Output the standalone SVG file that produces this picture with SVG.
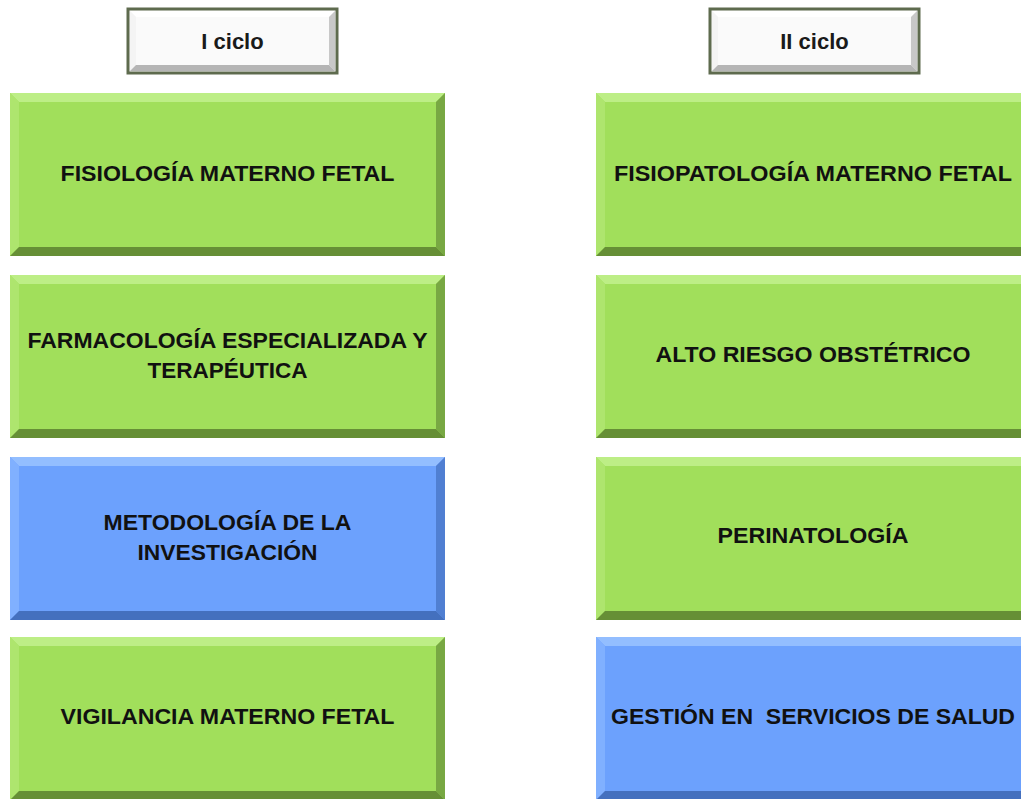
<svg xmlns="http://www.w3.org/2000/svg" width="1021" height="799" viewBox="0 0 1021 799">
<style>
.t{font-family:"Liberation Sans",Arial,sans-serif;font-weight:bold;font-size:22px;fill:#111;text-anchor:middle}
.h{font-family:"Liberation Sans",Arial,sans-serif;font-weight:bold;font-size:22px;fill:#1a1a1a;text-anchor:middle}
.g{--base:#A1DF5B;--tp:#BDEE86;--lf:#AEE56E;--rt:#78A843;--bt:#668F36}
.b{--base:#6CA1FD;--tp:#93BEFF;--lf:#80B0FF;--rt:#507FD2;--bt:#4470BE}
.hd{--base:#FAFAFA;--tp:#FFFFFF;--lf:#F4F4F4;--rt:#C8C8C8;--bt:#B5B5B5}
</style>
<defs>
<g id="bev">
<rect x="0" y="0" width="435" height="163" style="fill:var(--base)"/>
<polygon points="0,0 435,0 426,9 9,9" style="fill:var(--tp)"/>
<polygon points="0,0 9,9 9,154 0,163" style="fill:var(--lf)"/>
<polygon points="435,0 435,163 426,154 426,9" style="fill:var(--rt)"/>
<polygon points="0,163 9,154 426,154 435,163" style="fill:var(--bt)"/>
</g>
<g id="hbev">
<rect x="0" y="0" width="209" height="64" style="fill:var(--base);stroke:#5E6B4E;stroke-width:3"/>
<polygon points="2,2 207,2 201,8 8,8" style="fill:var(--tp)"/>
<polygon points="2,2 8,8 8,56 2,62" style="fill:var(--lf)"/>
<polygon points="207,2 207,62 201,56 201,8" style="fill:var(--rt)"/>
<polygon points="2,62 8,56 201,56 207,62" style="fill:var(--bt)"/>
</g>
</defs>
<rect width="1021" height="799" fill="#FFFFFF"/>
<g id="connectors"/>
<g id="header-1" class="hd" transform="translate(128,9)"><use href="#hbev"/><text class="h" x="104.5" y="40">I ciclo</text></g>
<g id="header-2" class="hd" transform="translate(710,9)"><use href="#hbev"/><text class="h" x="104.5" y="40">II ciclo</text></g>

<g id="n-fisiologia" class="g" transform="translate(10,93)"><use href="#bev"/><text class="t" x="217.5" y="88" textLength="334" lengthAdjust="spacingAndGlyphs">FISIOLOGÍA MATERNO FETAL</text></g>
<g id="n-farmacologia" class="g" transform="translate(10,275)"><use href="#bev"/><text class="t" x="217.5" y="73" textLength="400" lengthAdjust="spacingAndGlyphs">FARMACOLOGÍA ESPECIALIZADA Y</text><text class="t" x="217.5" y="103" textLength="160" lengthAdjust="spacingAndGlyphs">TERAPÉUTICA</text></g>
<g id="n-metodologia" class="b" transform="translate(10,457)"><use href="#bev"/><text class="t" x="217.5" y="73" textLength="248" lengthAdjust="spacingAndGlyphs">METODOLOGÍA DE LA</text><text class="t" x="217.5" y="103" textLength="180" lengthAdjust="spacingAndGlyphs">INVESTIGACIÓN</text></g>
<g id="n-vigilancia" class="g" transform="translate(10,637)"><use href="#bev"/><text class="t" x="217.5" y="87" textLength="334" lengthAdjust="spacingAndGlyphs">VIGILANCIA MATERNO FETAL</text></g>

<g id="n-fisiopatologia" class="g" transform="translate(596,93)"><use href="#bev"/><text class="t" x="217" y="88" textLength="398" lengthAdjust="spacingAndGlyphs">FISIOPATOLOGÍA MATERNO FETAL</text></g>
<g id="n-alto-riesgo" class="g" transform="translate(596,275)"><use href="#bev"/><text class="t" x="217" y="87" textLength="315" lengthAdjust="spacingAndGlyphs">ALTO RIESGO OBSTÉTRICO</text></g>
<g id="n-perinatologia" class="g" transform="translate(596,457)"><use href="#bev"/><text class="t" x="217" y="86" textLength="191" lengthAdjust="spacingAndGlyphs">PERINATOLOGÍA</text></g>
<g id="n-gestion" class="b" transform="translate(596,637)"><use href="#bev"/><text class="t" x="217" y="87" textLength="404" lengthAdjust="spacingAndGlyphs" xml:space="preserve">GESTIÓN EN  SERVICIOS DE SALUD</text></g>
</svg>
